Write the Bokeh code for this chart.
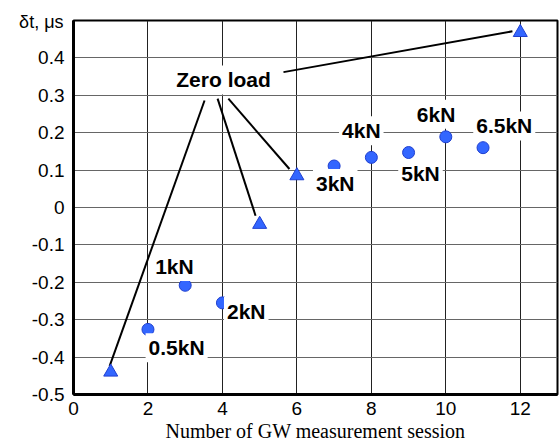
from bokeh.plotting import figure
from bokeh.models import Range1d, FixedTicker, Label
from bokeh.embed import file_html
from bokeh.resources import INLINE

# Data
tri_x = [1, 5, 6, 12]
tri_y = [-0.44, -0.045, 0.085, 0.468]
circ_x = [2, 3, 4, 7, 8, 9, 10, 11]
circ_y = [-0.326, -0.208, -0.255, 0.111, 0.134, 0.147, 0.189, 0.160]

load_labels = ["0.5kN", "1kN", "2kN", "3kN", "4kN", "5kN", "6kN", "6.5kN"]
load_label_x = [2.77, 2.71, 4.64, 7.03, 7.73, 9.32, 9.74, 11.57]
load_label_y = [-0.375, -0.158, -0.278, 0.064, 0.205, 0.090, 0.249, 0.218]

zero_label = "Zero load"
zero_label_pos = (4.03, 0.341)
leader_x0 = [3.52, 3.87, 4.16, 5.64]
leader_y0 = [0.286, 0.291, 0.291, 0.362]
leader_x1 = [0.97, 4.89, 5.80, 11.79]
leader_y1 = [-0.424, -0.022, 0.103, 0.471]

x_ticks = [0, 2, 4, 6, 8, 10, 12]
y_ticks = [-0.5, -0.4, -0.3, -0.2, -0.1, 0, 0.1, 0.2, 0.3, 0.4]
y_tick_labels = ["-0.5", "-0.4", "-0.3", "-0.2", "-0.1", "0", "0.1", "0.2", "0.3", "0.4"]

y_title = "\u03b4t, \u03bcs"

p = figure(width=559, height=447, output_backend="svg", toolbar_location=None,
           x_range=Range1d(0, 13), y_range=Range1d(-0.5, 0.5),
           min_border_left=73, min_border_right=2, min_border_top=11, min_border_bottom=53)

p.outline_line_color = "black"
p.outline_line_width = 2
p.background_fill_color = "white"

p.xaxis.ticker = FixedTicker(ticks=x_ticks)
p.yaxis.ticker = FixedTicker(ticks=y_ticks)
p.yaxis.major_label_overrides = {t: s for t, s in zip(y_ticks, y_tick_labels)}
for ax in (p.xaxis, p.yaxis):
    ax.axis_line_width = 3
    ax.axis_line_color = "black"
    ax.major_tick_out = 0
    ax.major_tick_in = 0
    ax.minor_tick_out = 0
    ax.minor_tick_in = 0
    ax.major_label_text_font = "Liberation Sans"
    ax.major_label_text_font_size = "19px"
    ax.major_label_text_color = "black"
p.xaxis.major_label_standoff = 7
p.yaxis.major_label_standoff = 9
p.xaxis.axis_label = "Number of GW measurement session"
p.xaxis.axis_label_text_font = "Liberation Serif"
p.xaxis.axis_label_text_font_style = "normal"
p.xaxis.axis_label_text_font_size = "20px"
p.xaxis.axis_label_text_color = "black"
p.xaxis.axis_label_standoff = 2

p.xgrid.grid_line_color = "#222222"
p.ygrid.grid_line_color = "#666666"
p.xgrid.grid_line_width = 1
p.ygrid.grid_line_width = 1

# Leader lines
p.segment(x0=leader_x0, y0=leader_y0, x1=leader_x1, y1=leader_y1,
          line_color="black", line_width=2)

# Markers
p.scatter(circ_x, circ_y, marker="circle", size=12, fill_color="#3366ff",
          line_color="#1f3fd0", line_width=1)
p.scatter(tri_x, tri_y, marker="triangle", size=14, fill_color="#3366ff",
          line_color="#1f3fd0", line_width=1)

# Text labels
for t, x, y in zip(load_labels, load_label_x, load_label_y):
    p.add_layout(Label(x=x, y=y, text=t, text_font="Liberation Sans",
                       text_font_style="bold", text_font_size="21px", text_color="black",
                       text_align="center", text_baseline="middle",
                       background_fill_color="white", padding=3))
p.add_layout(Label(x=zero_label_pos[0], y=zero_label_pos[1], text=zero_label,
                   text_font="Liberation Sans", text_font_style="bold",
                   text_font_size="21px", text_color="black", text_align="center",
                   text_baseline="middle", background_fill_color="white", padding=3))

# Y axis title at top-left (in the top side panel so it is not clipped by the frame)
p.add_layout(Label(x=0, y=0.495, x_offset=-10, text=y_title,
                   text_font="Liberation Sans", text_font_size="18px", text_color="black",
                   text_align="right", text_baseline="middle"), "above")

open("out.html", "w").write(file_html(p, INLINE))
